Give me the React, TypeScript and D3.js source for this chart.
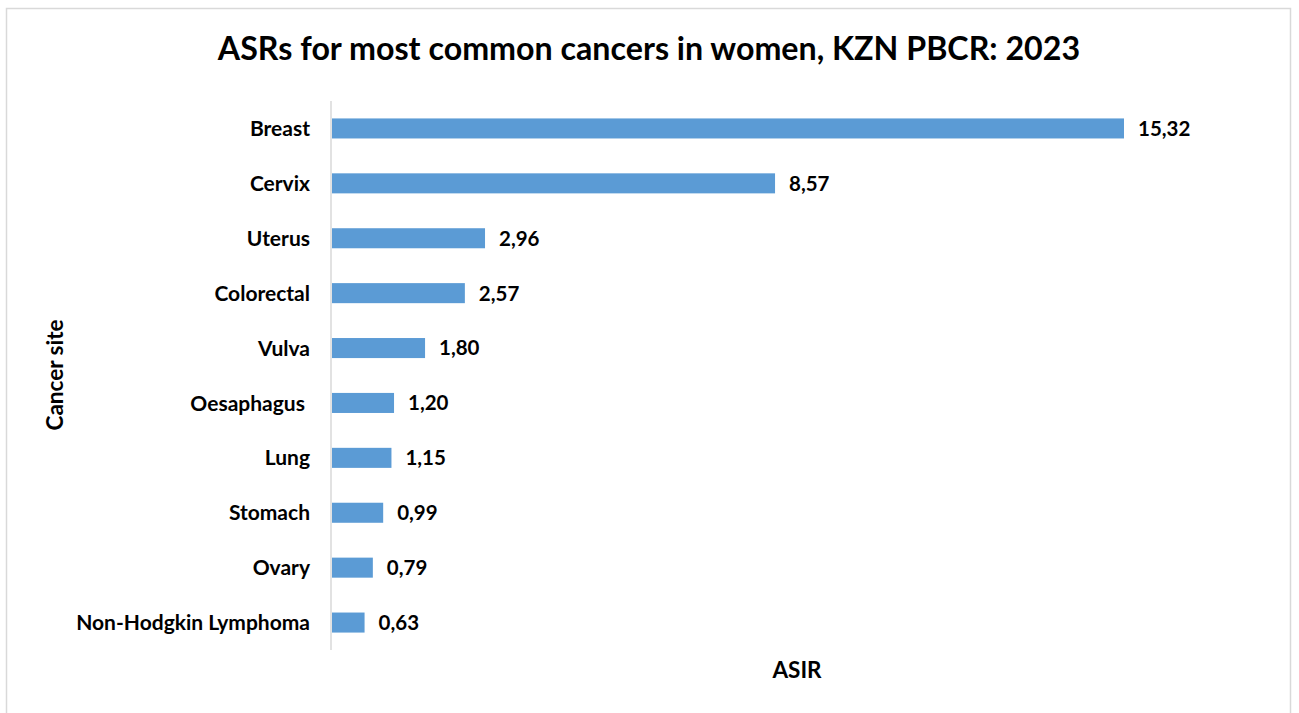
import { useRef, useEffect } from "react";
import * as d3 from "d3";

const sites = [
  "Breast",
  "Cervix",
  "Uterus",
  "Colorectal",
  "Vulva",
  "Oesaphagus ",
  "Lung",
  "Stomach",
  "Ovary",
  "Non-Hodgkin Lymphoma",
];
const asir = [15.32, 8.57, 2.96, 2.57, 1.8, 1.2, 1.15, 0.99, 0.79, 0.63];

const W = 1299, H = 713;
const FONT = "Lato, 'Open Sans', sans-serif";

export default function App() {
  const svgRef = useRef<SVGSVGElement>(null);

  useEffect(() => {
    if (!svgRef.current) return;
    const svg = d3.select(svgRef.current);
    svg.selectAll("*").remove();

    const left = 332, top = 101, bottom = 650;

    // chart frame
    svg.append("rect")
      .attr("x", 6.5).attr("y", 8.5)
      .attr("width", 1284).attr("height", 720)
      .attr("fill", "#fff")
      .attr("stroke", "#d9d9d9")
      .attr("stroke-width", 1.5);

    const x = d3.scaleLinear().domain([0, 15.32]).range([left, 1124]);
    const y = d3.scaleBand<string>().domain(sites).range([top, bottom])
      .paddingInner(0.635).paddingOuter(0.3175);

    svg.append("text")
      .attr("x", 649).attr("y", 60)
      .attr("text-anchor", "middle")
      .attr("font-family", FONT)
      .attr("font-weight", "700")
      .attr("font-size", 32.2)
      .attr("fill", "#000")
      .text("ASRs for most common cancers in women, KZN PBCR: 2023");

    // bars
    svg.append("g").selectAll("rect")
      .data(sites)
      .join("rect")
      .attr("x", x(0))
      .attr("y", d => y(d)!)
      .attr("width", (_, i) => x(asir[i]) - x(0))
      .attr("height", y.bandwidth())
      .attr("fill", "#5b9bd5");

    // value labels
    svg.append("g").selectAll("text")
      .data(sites)
      .join("text")
      .attr("x", (_, i) => x(asir[i]) + 14)
      .attr("y", d => y(d)! + y.bandwidth() / 2)
      .attr("dy", "0.36em")
      .attr("font-family", FONT)
      .attr("font-weight", "700")
      .attr("font-size", 20.5)
      .attr("fill", "#000")
      .text((_, i) => asir[i].toFixed(2).replace(".", ","));

    // category axis
    const yAxis = svg.append("g")
      .attr("transform", `translate(${left - 1},0)`)
      .call(d3.axisLeft(y).tickSize(0).tickPadding(21));
    yAxis.select(".domain").attr("stroke", "#d9d9d9").attr("stroke-width", 1.5)
      .attr("d", `M0,${top}V${bottom}`);
    yAxis.selectAll("text")
      .attr("dy", "0.36em")
      .attr("font-family", FONT)
      .attr("font-weight", "700")
      .attr("font-size", 21)
      .attr("fill", "#000")
      .style("white-space", "pre");

    svg.append("text")
      .attr("transform", "translate(63,375) rotate(-90)")
      .attr("text-anchor", "middle")
      .attr("font-family", FONT)
      .attr("font-weight", "700")
      .attr("font-size", 22.5)
      .attr("fill", "#000")
      .text("Cancer site");

    svg.append("text")
      .attr("x", 797).attr("y", 678)
      .attr("text-anchor", "middle")
      .attr("font-family", FONT)
      .attr("font-weight", "700")
      .attr("font-size", 22.5)
      .attr("fill", "#000")
      .text("ASIR");
  }, []);

  return (
    <svg
      ref={svgRef}
      width={W}
      height={H}
      style={{ position: "fixed", top: 0, left: 0, background: "#fff" }}
    />
  );
}
